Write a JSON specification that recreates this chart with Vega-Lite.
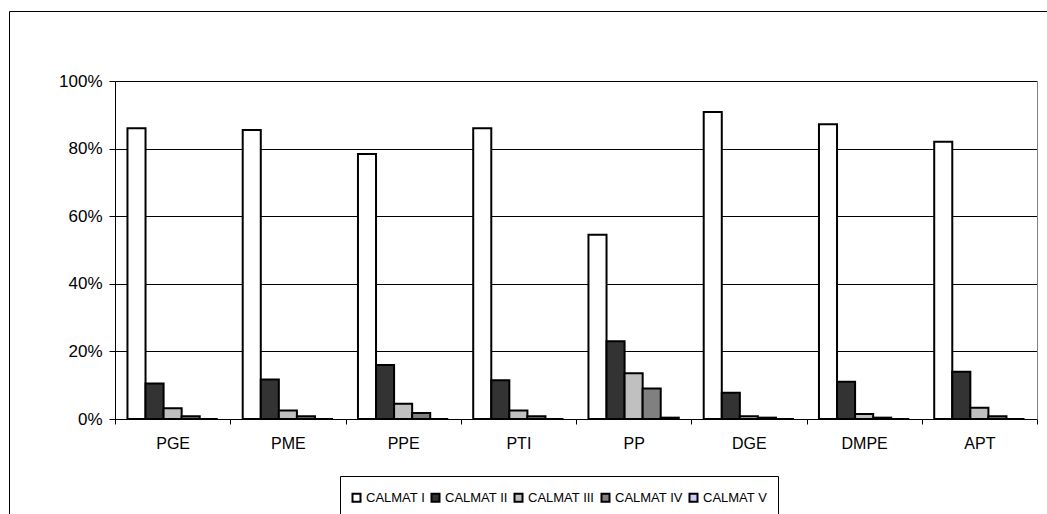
{
  "$schema": "https://vega.github.io/schema/vega-lite/v6.json",
  "width": 1045,
  "height": 510,
  "autosize": {"type": "none"},
  "padding": {"left": 9, "top": 11, "right": 0, "bottom": 0},
  "background": "white",
  "config": {
    "font": "Liberation Sans",
    "view": {"stroke": "#000000", "strokeWidth": 1},
    "axis": {
      "domainColor": "#000000",
      "tickColor": "#000000",
      "labelColor": "#000000",
      "labelFont": "Liberation Sans",
      "title": null
    }
  },
  "data": {
    "values": [
      {"group": "PGE", "series": "CALMAT I", "share": 0.86},
      {"group": "PGE", "series": "CALMAT II", "share": 0.105},
      {"group": "PGE", "series": "CALMAT III", "share": 0.032},
      {"group": "PGE", "series": "CALMAT IV", "share": 0.008},
      {"group": "PGE", "series": "CALMAT V", "share": 0},
      {"group": "PME", "series": "CALMAT I", "share": 0.855},
      {"group": "PME", "series": "CALMAT II", "share": 0.117},
      {"group": "PME", "series": "CALMAT III", "share": 0.025},
      {"group": "PME", "series": "CALMAT IV", "share": 0.008},
      {"group": "PME", "series": "CALMAT V", "share": 0},
      {"group": "PPE", "series": "CALMAT I", "share": 0.784},
      {"group": "PPE", "series": "CALMAT II", "share": 0.16},
      {"group": "PPE", "series": "CALMAT III", "share": 0.045},
      {"group": "PPE", "series": "CALMAT IV", "share": 0.018},
      {"group": "PPE", "series": "CALMAT V", "share": 0},
      {"group": "PTI", "series": "CALMAT I", "share": 0.86},
      {"group": "PTI", "series": "CALMAT II", "share": 0.115},
      {"group": "PTI", "series": "CALMAT III", "share": 0.025},
      {"group": "PTI", "series": "CALMAT IV", "share": 0.008},
      {"group": "PTI", "series": "CALMAT V", "share": 0},
      {"group": "PP", "series": "CALMAT I", "share": 0.545},
      {"group": "PP", "series": "CALMAT II", "share": 0.23},
      {"group": "PP", "series": "CALMAT III", "share": 0.135},
      {"group": "PP", "series": "CALMAT IV", "share": 0.09},
      {"group": "PP", "series": "CALMAT V", "share": 0.004},
      {"group": "DGE", "series": "CALMAT I", "share": 0.908},
      {"group": "DGE", "series": "CALMAT II", "share": 0.078},
      {"group": "DGE", "series": "CALMAT III", "share": 0.008},
      {"group": "DGE", "series": "CALMAT IV", "share": 0.004},
      {"group": "DGE", "series": "CALMAT V", "share": 0},
      {"group": "DMPE", "series": "CALMAT I", "share": 0.872},
      {"group": "DMPE", "series": "CALMAT II", "share": 0.11},
      {"group": "DMPE", "series": "CALMAT III", "share": 0.015},
      {"group": "DMPE", "series": "CALMAT IV", "share": 0.004},
      {"group": "DMPE", "series": "CALMAT V", "share": 0},
      {"group": "APT", "series": "CALMAT I", "share": 0.82},
      {"group": "APT", "series": "CALMAT II", "share": 0.14},
      {"group": "APT", "series": "CALMAT III", "share": 0.033},
      {"group": "APT", "series": "CALMAT IV", "share": 0.008},
      {"group": "APT", "series": "CALMAT V", "share": 0}
    ]
  },
  "resolve": {"axis": {"y": "independent"}},
  "layer": [
    {
      "mark": {"type": "bar", "stroke": "#000000", "strokeWidth": 2},
      "encoding": {
        "x": {
          "field": "group",
          "type": "nominal",
          "sort": ["PGE", "PME", "PPE", "PTI", "PP", "DGE", "DMPE", "APT"],
          "scale": {"range": [106, 1028], "paddingInner": 0, "paddingOuter": 0},
          "axis": {
            "orient": "bottom",
            "offset": -102,
            "labelAngle": 0,
            "labelFontSize": 16,
            "labelPadding": 11,
            "tickSize": 5,
            "tickBand": "extent",
            "grid": false
          }
        },
        "xOffset": {
          "field": "series",
          "type": "nominal",
          "sort": ["CALMAT I", "CALMAT II", "CALMAT III", "CALMAT IV", "CALMAT V"],
          "scale": {"paddingInner": 0, "paddingOuter": 0.69}
        },
        "y": {
          "field": "share",
          "type": "quantitative",
          "scale": {"domain": [0, 1], "range": [408, 70], "nice": false},
          "axis": {
            "orient": "left",
            "offset": -106,
            "values": [0, 0.2, 0.4, 0.6, 0.8, 1],
            "format": ".0%",
            "labelFontSize": 17,
            "labelPadding": 7,
            "tickSize": 6,
            "grid": true,
            "gridColor": "#000000",
            "gridOpacity": 1
          }
        },
        "fill": {
          "field": "series",
          "type": "nominal",
          "scale": {
            "domain": ["CALMAT I", "CALMAT II", "CALMAT III", "CALMAT IV", "CALMAT V"],
            "range": ["#FFFFFF", "#333333", "#C0C0C0", "#808080", "#CCCCFF"]
          },
          "legend": {
            "orient": "none",
            "legendX": 331,
            "legendY": 465,
            "direction": "horizontal",
            "title": " ",
            "titleFontSize": 3,
            "titlePadding": 2,
            "strokeColor": "#000000",
            "fillColor": "#FFFFFF",
            "padding": 10,
            "symbolType": "square",
            "symbolSize": 64,
            "symbolStrokeColor": "#000000",
            "symbolStrokeWidth": 2,
            "labelFontSize": 13,
            "labelColor": "#000000",
            "labelOffset": 3,
            "columnPadding": 2
          }
        }
      }
    },
    {
      "mark": {"type": "bar", "opacity": 0},
      "encoding": {
        "y": {
          "field": "share",
          "type": "quantitative",
          "axis": {
            "orient": "right",
            "offset": -17,
            "labels": false,
            "ticks": false,
            "grid": false,
            "domainColor": "#808080"
          }
        }
      }
    }
  ]
}
